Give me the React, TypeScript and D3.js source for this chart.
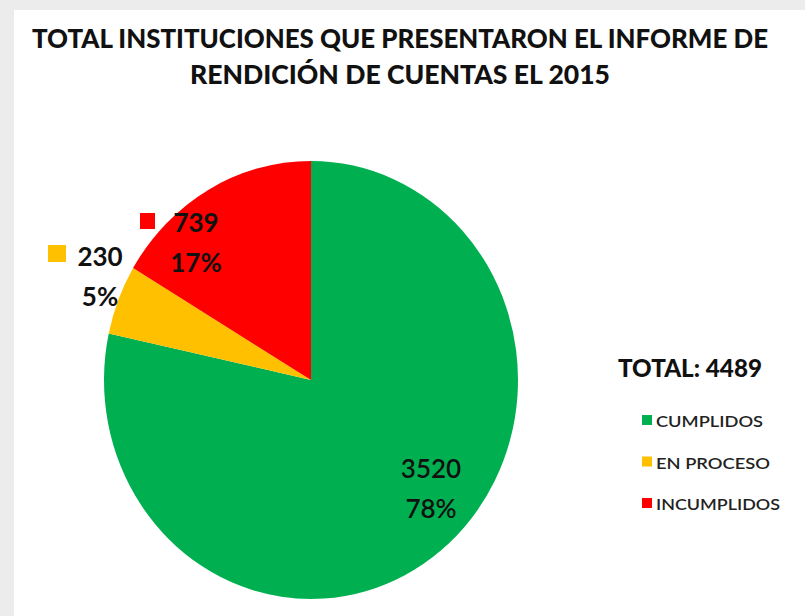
import React from 'react'
import * as d3 from 'd3'

// values
const categories = ['CUMPLIDOS', 'EN PROCESO', 'INCUMPLIDOS']
const counts = [3520, 230, 739]
const percents = ['78%', '5%', '17%']
const colors = ['#00B050', '#FFC000', '#FF0000']
const titleLines = [
  'TOTAL INSTITUCIONES  QUE PRESENTARON  EL INFORME DE',
  'RENDICIÓN DE CUENTAS EL  2015',
]
const totalLabel = 'TOTAL:  4489'

const W = 805
const H = 616
const font = 'Lato, "Open Sans", sans-serif'

// pie geometry (the source image is slightly stretched vertically)
const cx = 311
const cy = 380
const r = 207
const yStretch = 1.058

// where the data labels sit, per slice
const labelPos = [
  { x: 431, y: 478, sq: false },
  { x: 100, y: 266, sq: true, sqX: 48 },
  { x: 196, y: 232, sq: true, sqX: 140 },
]

export default function App() {
  const pie = d3.pie<number>().sort(null).value(d => d)
  const arcs = pie(counts)
  const arc = d3.arc<d3.PieArcDatum<number>>().innerRadius(0).outerRadius(r)

  return (
    <svg width={W} height={H} style={{ position: 'absolute', left: 0, top: 0, whiteSpace: 'pre' }}>
      <rect width={W} height={H} fill="#ececec" />
      <rect x={14} y={10} width={W - 14} height={H - 10} fill="#ffffff" />

      {/* title */}
      <text x={32} y={48} fontFamily={font} fontWeight={900} fontSize={26} fill="#111"
        textLength={736} lengthAdjust="spacingAndGlyphs">{titleLines[0]}</text>
      <text x={190} y={84} fontFamily={font} fontWeight={900} fontSize={26} fill="#111"
        textLength={420} lengthAdjust="spacingAndGlyphs">{titleLines[1]}</text>

      {/* pie */}
      <g transform={`translate(${cx},${cy}) scale(1,${yStretch})`}>
        {arcs.map((a, i) => (
          <path key={categories[i]} d={arc(a) || ''} fill={colors[i]} />
        ))}
      </g>

      {/* data labels */}
      {arcs.map((a, i) => {
        const p = labelPos[i]
        return (
          <g key={'lbl' + i}>
            {p.sq && (
              <rect x={p.sqX} y={p.y - (i === 1 ? 21 : 19)} width={i === 1 ? 18 : 15} height={i === 1 ? 17 : 16} fill={colors[i]} />
            )}
            <text x={p.x} y={p.y} textAnchor="middle" fontFamily={font}
              fontWeight={i === 0 ? 600 : 'bold'} fontSize={26} fill="#111">{counts[i]}</text>
            <text x={p.x} y={p.y + 40} textAnchor="middle" fontFamily={font}
              fontWeight={i === 0 ? 600 : 'bold'} fontSize={26} fill="#111">{percents[i]}</text>
          </g>
        )
      })}

      {/* legend */}
      <text x={618} y={377} fontFamily={font} fontWeight={900} fontSize={24} fill="#111"
        textLength={144} lengthAdjust="spacingAndGlyphs">{totalLabel}</text>
      {categories.map((c, i) => {
        const y = 427 + i * 41.5
        return (
          <g key={c}>
            <rect x={642} y={y - 12} width={10} height={10} fill={colors[i]} />
            <text x={656} y={y} fontFamily={font} fontWeight={600} fontSize={16} fill="#222"
              textLength={[107, 114, 124][i]} lengthAdjust="spacingAndGlyphs">{c}</text>
          </g>
        )
      })}
    </svg>
  )
}
